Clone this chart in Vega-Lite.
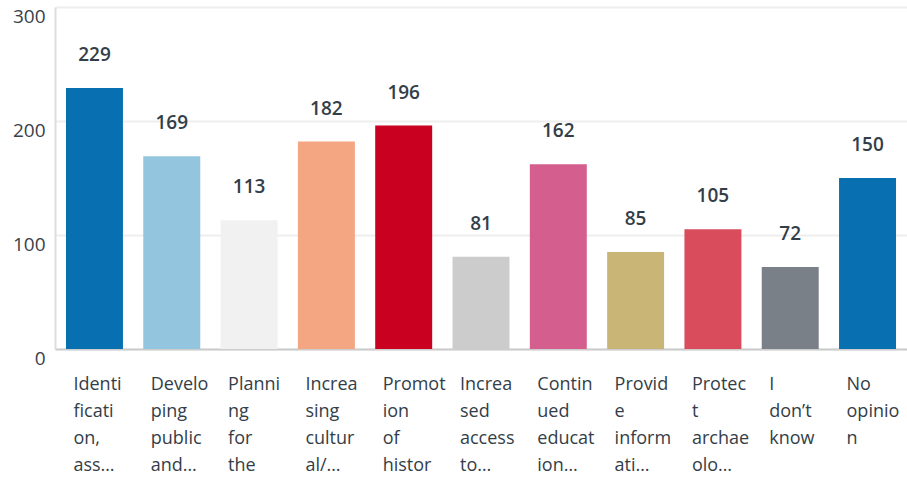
{
  "$schema": "https://vega.github.io/schema/vega-lite/v6.json",
  "autosize": "none",
  "width": 852,
  "height": 342,
  "padding": {"left": 55, "top": 7, "right": 0, "bottom": 132},
  "background": "white",
  "config": {
    "view": {"stroke": null},
    "font": "Open Sans"
  },
  "data": {
    "values": [
      {"label": "Identi|ficati|on,|ass…", "value": 229},
      {"label": "Develo|ping|public|and…", "value": 169},
      {"label": "Planni|ng|for|the", "value": 113},
      {"label": "Increa|sing|cultur|al/…", "value": 182},
      {"label": "Promot|ion|of|histor", "value": 196},
      {"label": "Increa|sed|access|to…", "value": 81},
      {"label": "Contin|ued|educat|ion…", "value": 162},
      {"label": "Provid|e|inform|ati…", "value": 85},
      {"label": "Protec|t|archae|olo…", "value": 105},
      {"label": "I|don’t|know", "value": 72},
      {"label": "No|opinio|n", "value": 150}
    ]
  },
  "encoding": {
    "x": {
      "field": "label",
      "type": "nominal",
      "sort": null,
      "scale": {"paddingInner": 0.263, "paddingOuter": 0.142},
      "axis": {
        "title": null,
        "labelAngle": 0,
        "labelAlign": "left",
        "labelBaseline": "top",
        "labelOffset": -21,
        "labelPadding": 26,
        "labelLimit": 0,
        "labelFontSize": 18,
        "labelColor": "#333e48",
        "labelLineHeight": 27,
        "labelExpr": "split(datum.label, '|')",
        "ticks": false,
        "domainColor": "#cccccc",
        "domainWidth": 2
      }
    },
    "y": {
      "field": "value",
      "type": "quantitative",
      "scale": {"domain": [0, 300], "nice": false},
      "axis": {
        "title": null,
        "values": [0, 100, 200, 300],
        "ticks": false,
        "labelFontSize": 19,
        "labelColor": "#3a4149",
        "labelPadding": 10,
        "labelBaseline": "top",
        "labelOffset": 0,
        "domainColor": "#dddddd",
        "domainWidth": 2,
        "gridColor": "#eeeeee",
        "gridWidth": 2
      }
    }
  },
  "layer": [
    {
      "mark": {"type": "bar"},
      "encoding": {
        "color": {
          "field": "label",
          "type": "nominal",
          "legend": null,
          "scale": {
            "domain": ["Identi|ficati|on,|ass…", "Develo|ping|public|and…", "Planni|ng|for|the", "Increa|sing|cultur|al/…", "Promot|ion|of|histor", "Increa|sed|access|to…", "Contin|ued|educat|ion…", "Provid|e|inform|ati…", "Protec|t|archae|olo…", "I|don’t|know", "No|opinio|n"],
            "range": ["#0870b0", "#93c5de", "#f1f1f1", "#f4a582", "#ca0020", "#cccccc", "#d45f8f", "#c9b677", "#d94c5c", "#7a8088", "#0870b0"]
          }
        }
      }
    },
    {
      "mark": {"type": "text", "dy": -33, "fontSize": 19, "fontWeight": 600, "color": "#333e48", "baseline": "middle"},
      "encoding": {"text": {"field": "value", "type": "quantitative"}}
    }
  ]
}
